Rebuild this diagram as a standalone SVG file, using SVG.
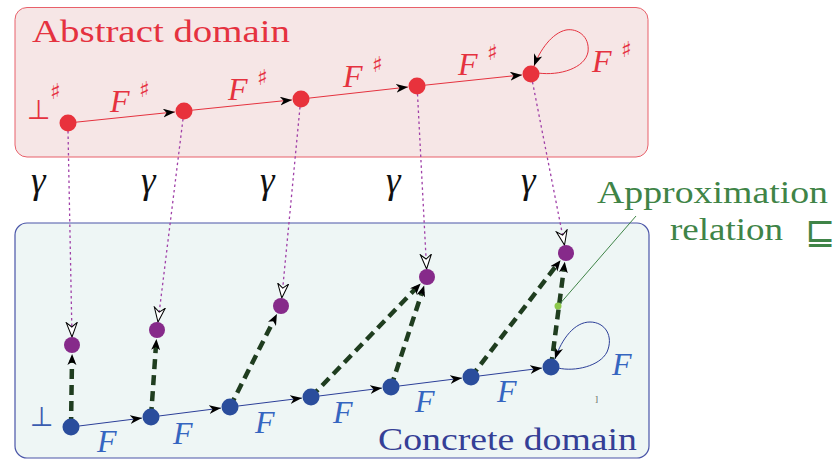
<svg xmlns="http://www.w3.org/2000/svg" width="840" height="460" viewBox="0 0 840 460">
<style>
.lbl{font-family:"Liberation Serif","DejaVu Serif","Noto Serif",serif}
.it{font-style:italic}
.sym{font-family:"DejaVu Sans",sans-serif}
.red{fill:#e5323f}
.blue{fill:#3565c0}
.rn{fill:#e8323c}
.bn{fill:#2a4d9c}
.pn{fill:#862a8a}
.redE{stroke:#e5323f;stroke-width:1;fill:none}
.blueE{stroke:#2c3f98;stroke-width:1;fill:none}
.gam{stroke:#a040a8;stroke-width:1.3;stroke-dasharray:2.5 3;fill:none}
.app{stroke:#1f3d1f;stroke-width:4.5;stroke-dasharray:10 6;fill:none}
</style>
<defs>
<marker id="st" markerUnits="userSpaceOnUse" markerWidth="14" markerHeight="10" refX="12" refY="4.5" orient="auto" viewBox="0 0 14 10">
<path d="M0,0 L12,4.5 L0,9 L3.5,4.5 z" fill="#000"/>
</marker>
<marker id="stD" markerUnits="userSpaceOnUse" markerWidth="14" markerHeight="10" refX="5" refY="4.5" orient="auto" viewBox="0 0 14 10">
<path d="M0,0 L11,4.5 L0,9 L3,4.5 z" fill="#000"/>
</marker>
<marker id="op" markerUnits="userSpaceOnUse" markerWidth="18" markerHeight="14" refX="15" refY="6" orient="auto" viewBox="0 0 18 14">
<path d="M0.5,0.5 L15,6 L0.5,11.5 L5,6 z" fill="#fff" stroke="#000" stroke-width="1"/>
</marker>
</defs>

<g id="abstract-domain">
<rect x="15" y="7.5" width="633" height="149.5" rx="12" fill="#f6e6e6" stroke="#e8606a" stroke-width="1"/>
<text class="lbl red" x="32" y="42" font-size="31" textLength="258" lengthAdjust="spacingAndGlyphs">Abstract domain</text>
</g>
<g id="concrete-domain">
<rect x="15" y="223" width="634" height="235" rx="12" fill="#eef6f5" stroke="#4a55a8" stroke-width="1.2"/>
<text class="lbl" x="378" y="450" font-size="31" textLength="259" lengthAdjust="spacingAndGlyphs" fill="#353f96">Concrete domain</text>
</g>

<g id="connectors">
<path class="redE" d="M68,123 L175,111.9" marker-end="url(#st)"/>
<path class="redE" d="M184,111 L292,99.9" marker-end="url(#st)"/>
<path class="redE" d="M301,99 L408,87" marker-end="url(#st)"/>
<path class="redE" d="M417,86 L522,74.9" marker-end="url(#st)"/>
<path class="redE" d="M538,73 C560,76 585,68 588,52 C590,36 577,28 566,30 C552,33 540,50 534,66" marker-end="url(#st)"/>
<path class="blueE" d="M71,427 L142,418.1" marker-end="url(#st)"/>
<path class="blueE" d="M151,417 L221,408.1" marker-end="url(#st)"/>
<path class="blueE" d="M230,407 L302,398.1" marker-end="url(#st)"/>
<path class="blueE" d="M311,397 L382,388.1" marker-end="url(#st)"/>
<path class="blueE" d="M391,387 L462,378.1" marker-end="url(#st)"/>
<path class="blueE" d="M471,377 L542,368.1" marker-end="url(#st)"/>
<path class="blueE" d="M558,368 C575,372 600,366 607,352 C614,336 605,322 590,322 C575,322 562,338 555,359" marker-end="url(#st)"/>
<path class="gam" d="M68,131 L72,337" marker-end="url(#op)"/>
<path class="gam" d="M183,119 L158,322" marker-end="url(#op)"/>
<path class="gam" d="M300,107 L281.8,298" marker-end="url(#op)"/>
<path class="gam" d="M417.5,94 L426.6,269" marker-end="url(#op)"/>
<path class="gam" d="M532.5,82 L564.5,245" marker-end="url(#op)"/>
<path class="app" d="M71,427 L72,360" marker-end="url(#stD)"/>
<path class="app" d="M151,417 L156,345" marker-end="url(#stD)"/>
<path class="app" d="M230,407 L274.2,319.4" marker-end="url(#stD)"/>
<path class="app" d="M311,397 L416.5,287.8" marker-end="url(#stD)"/>
<path class="app" d="M391,387 L422.3,291.3" marker-end="url(#stD)"/>
<path class="app" d="M471,377 L556.9,264.9" marker-end="url(#stD)"/>
<path class="app" d="M551,367 L564,267.8" marker-end="url(#stD)"/>
<path d="M558,306 L636,216" stroke="#3f8447" stroke-width="1" fill="none"/>
</g>

<g id="abstract-nodes">
<g id="a0"><circle class="rn" cx="68" cy="123" r="8.5"/></g>
<g id="a1"><circle class="rn" cx="184" cy="111" r="8.5"/></g>
<g id="a2"><circle class="rn" cx="301" cy="99" r="8.5"/></g>
<g id="a3"><circle class="rn" cx="417" cy="86" r="8.5"/></g>
<g id="a4"><circle class="rn" cx="531" cy="74" r="8.5"/></g>
</g>
<g id="concrete-nodes">
<g id="c0"><circle class="bn" cx="71" cy="427" r="8.5"/></g>
<g id="c1"><circle class="bn" cx="151" cy="417" r="8.5"/></g>
<g id="c2"><circle class="bn" cx="230" cy="407" r="8.5"/></g>
<g id="c3"><circle class="bn" cx="311" cy="397" r="8.5"/></g>
<g id="c4"><circle class="bn" cx="391" cy="387" r="8.5"/></g>
<g id="c5"><circle class="bn" cx="471" cy="377" r="8.5"/></g>
<g id="c6"><circle class="bn" cx="551" cy="367" r="8.5"/></g>
</g>
<g id="image-nodes">
<g id="p0"><circle class="pn" cx="72" cy="345" r="8"/></g>
<g id="p1"><circle class="pn" cx="157" cy="330" r="8"/></g>
<g id="p2"><circle class="pn" cx="281" cy="306" r="8"/></g>
<g id="p3"><circle class="pn" cx="427" cy="277" r="8"/></g>
<g id="p4"><circle class="pn" cx="566" cy="253" r="8"/></g>
<g id="approx-point"><circle cx="558" cy="306" r="3.5" fill="#8cc84b"/></g>
</g>

<g id="labels">
<text class="sym red" x="27" y="119" font-size="27">⊥</text>
<text class="sym red" x="50" y="99" font-size="22">♯</text>
<g class="lbl it red" font-size="32">
<text x="110" y="112">F</text>
<text x="228" y="100">F</text>
<text x="343" y="87">F</text>
<text x="458" y="75">F</text>
<text x="592" y="72">F</text>
</g>
<g class="sym red" font-size="22">
<text x="139" y="97">♯</text>
<text x="257" y="85">♯</text>
<text x="372" y="72">♯</text>
<text x="487" y="60">♯</text>
<text x="621" y="57">♯</text>
</g>
<g class="lbl it" font-size="37" fill="#111">
<text x="31" y="193">γ</text>
<text x="141" y="193">γ</text>
<text x="260" y="193">γ</text>
<text x="386" y="193">γ</text>
<text x="521" y="193">γ</text>
</g>
<text class="sym" x="30" y="426" font-size="27" fill="#3a5cb0">⊥</text>
<g class="lbl it blue" font-size="32">
<text x="97" y="452">F</text>
<text x="173" y="444">F</text>
<text x="255" y="433">F</text>
<text x="333" y="423">F</text>
<text x="415" y="412">F</text>
<text x="497" y="402">F</text>
<text x="612" y="375">F</text>
</g>
<text class="lbl" x="595" y="402" font-size="9" fill="#555">]</text>
<text class="lbl" x="597" y="203" font-size="31" textLength="231" lengthAdjust="spacingAndGlyphs" fill="#3f8447">Approximation</text>
<text class="lbl" x="670" y="240" font-size="31" textLength="113" lengthAdjust="spacingAndGlyphs" fill="#3f8447">relation</text>
<text class="sym" x="805" y="244" font-size="36" fill="#3f8447">⊑</text>
</g>
</svg>
